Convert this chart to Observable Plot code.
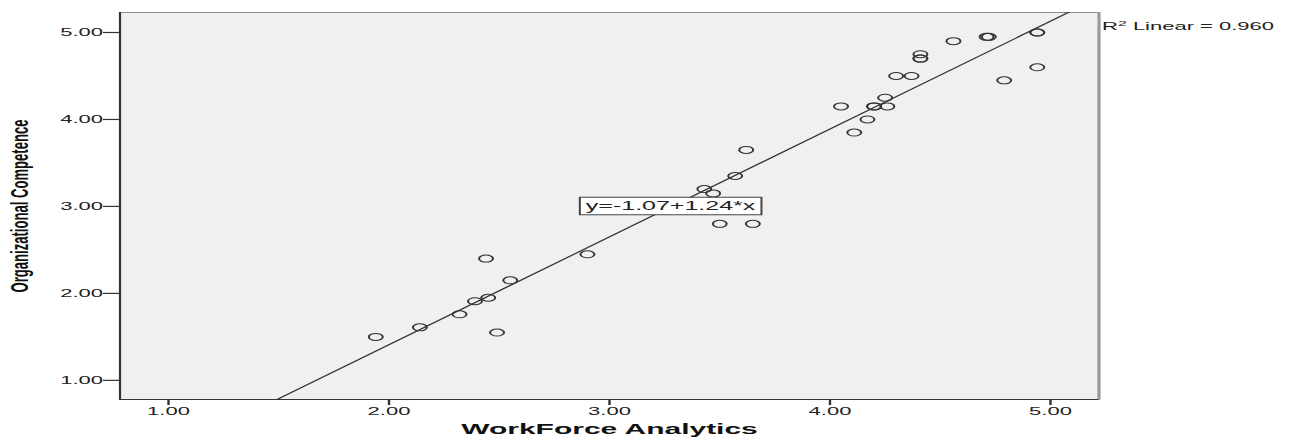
<!DOCTYPE html>
<html>
<head>
<meta charset="utf-8">
<script src="https://cdn.jsdelivr.net/npm/d3@7"></script>
<script src="https://cdn.jsdelivr.net/npm/@observablehq/plot@0.6"></script>
<style>
  html, body { margin: 0; padding: 0; background: #ffffff; }
  #chart { width: 1289px; height: 440px; overflow: hidden; }
</style>
</head>
<body>
<div id="chart"></div>
<script>
// ---- data ----
const workforce = [1.94, 2.14, 2.32, 2.39, 2.45, 2.44, 2.49, 2.55, 2.90,
  3.43, 3.47, 3.50, 3.57, 3.62, 3.65,
  4.05, 4.11, 4.17, 4.20, 4.20, 4.25, 4.26, 4.30, 4.37, 4.41, 4.41, 4.41,
  4.56, 4.71, 4.72, 4.79, 4.94, 4.94, 4.94];
const competence = [1.50, 1.61, 1.76, 1.91, 1.95, 2.40, 1.55, 2.15, 2.45,
  3.20, 3.15, 2.80, 3.35, 3.65, 2.80,
  4.15, 3.85, 4.00, 4.15, 4.15, 4.25, 4.15, 4.50, 4.50, 4.75, 4.70, 4.70,
  4.90, 4.95, 4.95, 4.45, 5.00, 5.00, 4.60];
const xTicks = [1, 2, 3, 4, 5];
const yTicks = [1, 2, 3, 4, 5];
const xDomain = [0.78, 5.22];
const yDomain = [0.78, 5.23];
const intercept = -1.07;
const slope = 1.24;
const r2 = 0.960;
const equationLabel = "y=-1.07+1.24*x";
const equationAt = [3.277, 3.0];
const xTitle = "WorkForce Analytics";
const yTitle = "Organizational Competence";

// ---- derived tables ----
const points = workforce.map((x, i) => ({x, y: competence[i]}));
const fitLine = xDomain.map(x => ({x, y: intercept + slope * x}));
const eqData = [{x: equationAt[0], y: equationAt[1], label: equationLabel}];
const r2Label = "R2 Linear = " + r2.toFixed(3);
const fmt = d3.format(".2f");

// the reference is horizontally stretched; draw narrow then stretch
const SX = 2;
const W = 1289 / SX;
const H = 440;
const frameRight = 549;
const yTitleLength = 173;

const svg = Plot.plot({
  width: W,
  height: H,
  marginLeft: 59.5,
  marginRight: W - frameRight,
  marginTop: 12,
  marginBottom: 41,
  x: {domain: xDomain},
  y: {domain: yDomain},
  style: {fontFamily: "'Liberation Sans', Arial, sans-serif", fontSize: "11px", color: "#222", background: "transparent", overflow: "visible"},
  marks: [
    Plot.frame({fill: "#f0f0f0", stroke: "#8c8c8c", strokeWidth: 1}),
    Plot.ruleX([xDomain[1]], {stroke: "#9a9a9a", strokeWidth: 1.6}),
    Plot.line(fitLine, {x: "x", y: "y", stroke: "#333", strokeWidth: 1, clip: true}),
    Plot.dot(points, {x: "x", y: "y", r: 3.5, stroke: "#333", strokeWidth: 1, fill: "none"}),
    Plot.ruleX([xDomain[0]], {stroke: "#333", strokeWidth: 1.1}),
    Plot.ruleY([yDomain[0]], {stroke: "#333", strokeWidth: 1.2}),
    Plot.axisX({ticks: xTicks, tickFormat: fmt, tickSize: 6, tickPadding: 2, label: null, stroke: "#333", strokeWidth: 1.2, fontSize: 11}),
    Plot.axisY({ticks: yTicks, tickFormat: fmt, tickSize: 8, tickPadding: 0.5, label: null, stroke: "#333", strokeWidth: 1.2, fontSize: 11}),
    Plot.text(eqData, {x: "x", y: "y", text: "label", fontSize: 12.5, fill: "#222", className: "eq"}),
    Plot.text([r2Label], {frameAnchor: "top-right", dx: 1.5, dy: 10, textAnchor: "start", fontSize: 11, fill: "#222", className: "r2"}),
    Plot.text([xTitle], {frameAnchor: "bottom", dy: 34, fontSize: 15, fontWeight: "bold", fill: "#111"}),
    Plot.text([yTitle], {frameAnchor: "bottom-left", dx: -46, dy: -107, rotate: -90, textAnchor: "start", fontSize: 12, fontWeight: "bold", fill: "#111", className: "ytitle"})
  ]
});

const host = document.getElementById("chart");
host.append(svg);
svg.setAttribute("width", 1289);
svg.setAttribute("height", H);
svg.setAttribute("viewBox", `0 0 ${W} ${H}`);
svg.setAttribute("preserveAspectRatio", "none");
svg.style.width = "1289px";
svg.style.height = H + "px";
svg.style.maxWidth = "none";

// condensed vertical title
const yt = svg.querySelector(".ytitle text");
if (yt) { yt.setAttribute("textLength", yTitleLength); yt.setAttribute("lengthAdjust", "spacingAndGlyphs"); }

// superscript 2 in the R² label
const rt = svg.querySelector(".r2 text");
if (rt) {
  const s = rt.textContent;
  rt.textContent = "";
  const ns = "http://www.w3.org/2000/svg";
  const a = document.createElementNS(ns, "tspan"); a.textContent = s.slice(0, 1);
  const b = document.createElementNS(ns, "tspan"); b.textContent = s.slice(1, 2);
  b.setAttribute("font-size", 8); b.setAttribute("dy", -4);
  const c = document.createElementNS(ns, "tspan"); c.textContent = s.slice(2);
  c.setAttribute("dy", 4);
  rt.append(a, b, c);
}

// white box behind the equation label
const et = svg.querySelector(".eq text");
if (et) {
  const bb = et.getBBox();
  const rect = document.createElementNS("http://www.w3.org/2000/svg", "rect");
  rect.setAttribute("x", bb.x - 3);
  rect.setAttribute("y", bb.y - 1.8);
  rect.setAttribute("width", bb.width + 6);
  rect.setAttribute("height", bb.height + 3.6);
  rect.setAttribute("fill", "#ffffff");
  rect.setAttribute("stroke", "#444");
  rect.setAttribute("stroke-width", 1);
  if (et.getAttribute("transform")) rect.setAttribute("transform", et.getAttribute("transform"));
  et.parentNode.insertBefore(rect, et);
}
</script>
</body>
</html>
